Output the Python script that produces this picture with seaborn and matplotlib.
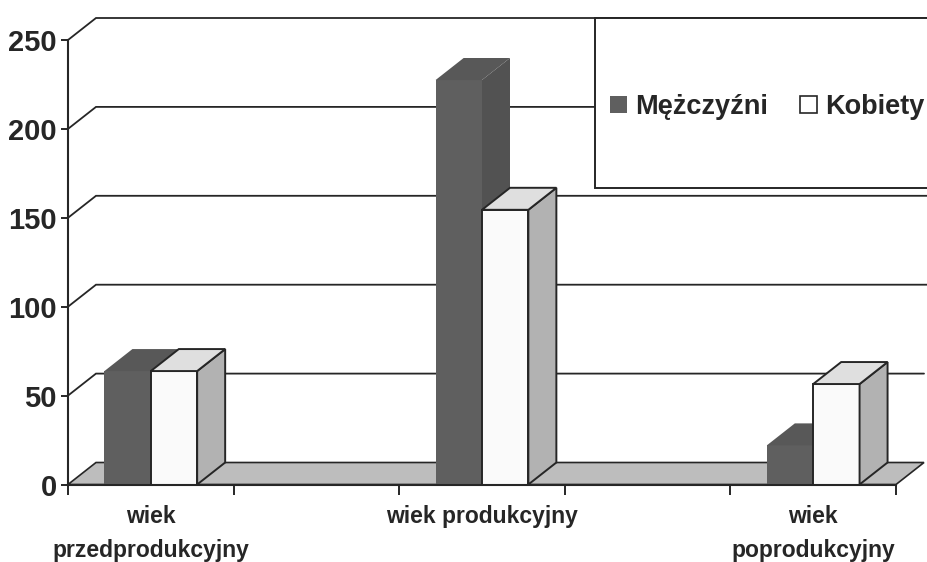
import matplotlib
matplotlib.use("Agg")
import matplotlib.pyplot as plt
from matplotlib.patches import Patch, Polygon, Rectangle
import pandas as pd
import seaborn as sns

categories = ["wiek\nprzedprodukcyjny", "wiek produkcyjny", "wiek\npoprodukcyjny"]
men = [63.8, 227.5, 22]
women = [63.8, 154.5, 56.5]
series_names = ["Mężczyźni", "Kobiety"]
y_ticks = [0, 50, 100, 150, 200, 250]

W, H = 928, 562
PX_L, PX_R, PX_TOP, PX_ZERO = 68, 896, 40, 484.5
DEPTH_PX_X, DEPTH_PX_Y = 28, 22
INK = "#262626"

sns.set_theme(style="white")
plt.rcParams["font.family"] = ["Liberation Sans", "DejaVu Sans"]

df = pd.DataFrame({
    "grupa": categories * 2,
    "plec": [series_names[0]] * 3 + [series_names[1]] * 3,
    "wartosc": men + women,
})

fig = plt.figure(figsize=(W / 100, H / 100), dpi=100, facecolor="white")
ax = fig.add_axes([PX_L / W, 1 - PX_ZERO / H, (PX_R - PX_L) / W, (PX_ZERO - PX_TOP) / H])
ax.patch.set_alpha(0)

sns.barplot(data=df, x="grupa", y="wartosc", hue="plec", order=categories,
            hue_order=series_names, palette=["#5f5f5f", "#fafafa"], width=0.28,
            gap=0, legend=False, ax=ax, saturation=1)
ax.set_xlim(-0.25, 2.25)
ax.set_ylim(0, 250)
ax.set_xlabel("")
ax.set_ylabel("")

x0, x1 = ax.get_xlim()
dx = DEPTH_PX_X * (x1 - x0) / (PX_R - PX_L)
dy = DEPTH_PX_Y * 250 / (PX_ZERO - PX_TOP)
edge_x = x0 + (W - PX_L) * (x1 - x0) / (PX_R - PX_L)

# back wall grid lines
for v in y_ticks[1:]:
    end = x1 + dx if v == 50 else edge_x
    ax.plot([x0, x0 + dx, end], [v, v + dy, v + dy], color=INK, lw=1.3,
            clip_on=False, zorder=1, solid_joinstyle="miter")

# floor
ax.add_patch(Polygon([(x0, 0), (x0 + dx, dy), (x1 + dx, dy), (x1, 0)], closed=True,
                     facecolor="#bdbdbd", edgecolor=INK, lw=1.2, clip_on=False, zorder=1.5))

# extruded bar faces built from the bars seaborn drew
styles = [
    dict(front_z=3, side="#525252", top="#585858", edge="none", lw=0),
    dict(front_z=4, side="#b2b2b2", top="#dfdfdf", edge=INK, lw=1.4),
]
for container, st in zip(ax.containers, styles):
    for bar in container:
        l, r, h = bar.get_x(), bar.get_x() + bar.get_width(), bar.get_height()
        bar.set_zorder(st["front_z"])
        bar.set_edgecolor(st["edge"])
        bar.set_linewidth(st["lw"])
        bar.set_clip_on(False)
        ax.add_patch(Polygon([(r, 0), (r + dx, dy), (r + dx, h + dy), (r, h)], closed=True,
                             facecolor=st["side"], edgecolor=st["edge"], lw=st["lw"],
                             clip_on=False, zorder=st["front_z"]))
        ax.add_patch(Polygon([(l, h), (l + dx, h + dy), (r + dx, h + dy), (r, h)], closed=True,
                             facecolor=st["top"], edgecolor=st["edge"], lw=st["lw"],
                             clip_on=False, zorder=st["front_z"]))

# axes
for s in ["top", "right"]:
    ax.spines[s].set_visible(False)
for s in ["left", "bottom"]:
    ax.spines[s].set_color(INK)
    ax.spines[s].set_linewidth(1.5)
    ax.spines[s].set_zorder(5)

ax.set_yticks(y_ticks)
ax.set_yticklabels([str(v) for v in y_ticks], fontsize=21, fontweight="bold", color=INK)
ax.tick_params(axis="y", left=True, length=5, width=1.4, color=INK, pad=3)

ax.set_xticks([x0 + i * 0.5 for i in range(6)])
ax.set_xticklabels([])
ax.tick_params(axis="x", which="major", bottom=True, length=7, width=1.4, color=INK)
ax.set_xticks(range(len(categories)), minor=True)
ax.set_xticklabels(categories, minor=True, fontsize=16.5, fontweight="bold", color=INK,
                   linespacing=1.6, va="top")
ax.tick_params(axis="x", which="minor", bottom=False, length=0, pad=15)

# legend box runs off the right edge of the picture
fig.add_artist(Rectangle((595 / W, 1 - 188 / H), (W + 10 - 595) / W, (188 - 18) / H,
                         transform=fig.transFigure, facecolor="white", edgecolor=INK,
                         lw=1.4, zorder=2))
handles = [Patch(facecolor="#5f5f5f", edgecolor="none"),
           Patch(facecolor="white", edgecolor=INK, lw=1.2)]
leg = fig.legend(handles, series_names, loc="center left",
                 bbox_to_anchor=(610 / W, 1 - 107 / H), ncols=2, frameon=False,
                 prop={"size": 19.5, "weight": "bold", "family": "Liberation Sans"},
                 labelcolor=INK, handlelength=0.62, handleheight=0.62,
                 handletextpad=0.3, columnspacing=1.18, borderpad=0, borderaxespad=0)
leg.set_zorder(3)

fig.savefig("out.png", dpi=100, facecolor="white")
